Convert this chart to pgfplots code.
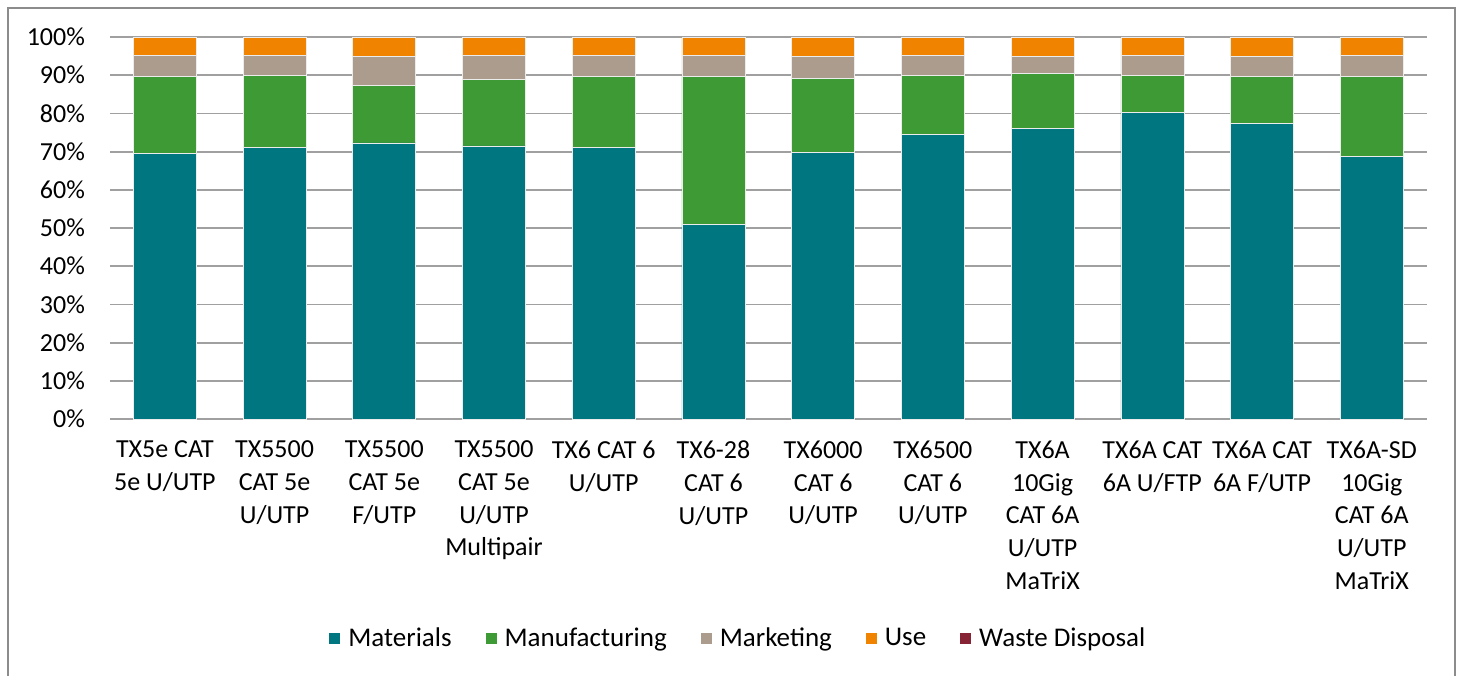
\documentclass[border=0pt]{standalone}
\usepackage{pgfplots}
\pgfplotsset{compat=1.18}
\usepackage{fontspec}
\setmainfont{Carlito}
\definecolor{cMat}{HTML}{007681}
\definecolor{cMan}{HTML}{3D9A35}
\definecolor{cMkt}{HTML}{AC9C8D}
\definecolor{cUse}{HTML}{F08400}
\definecolor{cWas}{HTML}{862334}
\definecolor{gridc}{HTML}{A0A0A0}
\definecolor{framec}{HTML}{8C8C8C}
\begin{document}
\begin{tikzpicture}
\useasboundingbox (-55pt,-128pt) rectangle (675pt,209.5pt);
\draw[framec, line width=1pt] (-51pt,-140pt) rectangle (672.5pt,205.5pt);
\begin{axis}[
  at={(0,0)}, anchor=south west,
  width=658.3pt, height=191pt, scale only axis,
  ybar stacked, bar width=31.5pt,
  xmin=-0.5, xmax=11.5, ymin=0, ymax=100,
  xtick={0,...,11},
  xticklabels={{TX5e CAT\\5e U/UTP},{TX5500\\CAT 5e\\U/UTP},{TX5500\\CAT 5e\\F/UTP},{TX5500\\CAT 5e\\U/UTP\\Multipair},{TX6 CAT 6\\U/UTP},{TX6-28\\CAT 6\\U/UTP},{TX6000\\CAT 6\\U/UTP},{TX6500\\CAT 6\\U/UTP},{TX6A\\10Gig\\CAT 6A\\U/UTP\\MaTriX},{TX6A CAT\\6A U/FTP},{TX6A CAT\\6A F/UTP},{TX6A-SD\\10Gig\\CAT 6A\\U/UTP\\MaTriX}},
  ytick={0,10,...,100},
  yticklabel={\pgfmathprintnumber{\tick}\%},
  /pgf/number format/assume math mode=true,
  major tick length=0pt,
  ymajorgrids, grid style={gridc, line width=0.9pt},
  axis x line*=bottom, axis y line*=left,
  x axis line style={gridc, line width=0.9pt, -},
  y axis line style={draw=none},
  every tick label/.append style={font=\fontsize{13pt}{16.3pt}\selectfont, text=black},
  xticklabel style={align=center, yshift=-7.5pt},
  yticklabel style={xshift=-9pt},
  legend columns=-1,
  legend style={draw=none, at={(0.478,-0.575)}, anchor=center,
    font=\fontsize{13.5pt}{16pt}\selectfont,
    /tikz/every odd column/.append style={column sep=2pt},
    /tikz/every even column/.append style={column sep=15pt}},
  legend image code/.code={\fill[#1,draw=none] (0pt,-2.75pt) rectangle (5.5pt,2.75pt);},
  every axis plot/.append style={draw=white!85!gray, line width=0.3pt},
]
\addplot[fill=cMat] coordinates {(0,69.5) (1,71.1) (2,72.3) (3,71.5) (4,71.1) (5,51.0) (6,69.7) (7,74.5) (8,76.1) (9,80.2) (10,77.3) (11,68.7)};
\addplot[fill=cMan] coordinates {(0,20.1) (1,18.9) (2,15.0) (3,17.4) (4,18.6) (5,38.6) (6,19.4) (7,15.4) (8,14.3) (9,9.85) (10,12.3) (11,21.0)};
\addplot[fill=cMkt] coordinates {(0,5.6) (1,5.2) (2,7.7) (3,6.3) (4,5.5) (5,5.6) (6,5.9) (7,5.3) (8,4.5) (9,5.15) (10,5.4) (11,5.5)};
\addplot[fill=cUse] coordinates {(0,4.8) (1,4.8) (2,5.0) (3,4.8) (4,4.8) (5,4.8) (6,5.0) (7,4.8) (8,5.1) (9,4.8) (10,5.0) (11,4.8)};
\addplot[fill=cWas] coordinates {(0,0) (1,0) (2,0) (3,0) (4,0) (5,0) (6,0) (7,0) (8,0) (9,0) (10,0) (11,0)};
\legend{Materials,Manufacturing,Marketing,Use,Waste Disposal}
\end{axis}
\end{tikzpicture}
\end{document}
